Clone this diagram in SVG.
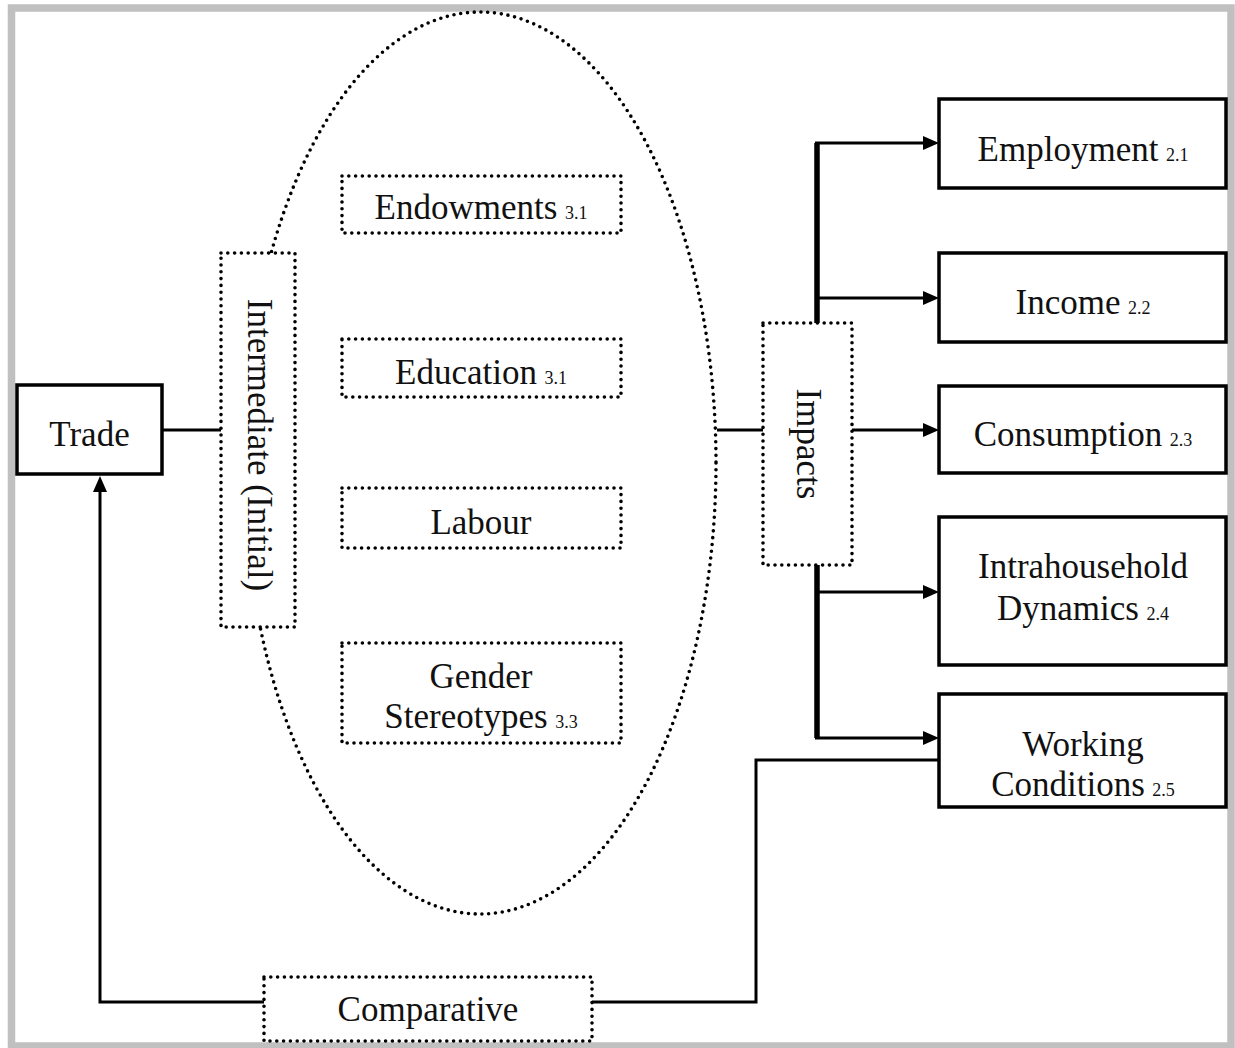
<svg xmlns="http://www.w3.org/2000/svg" width="1235" height="1048" viewBox="0 0 1235 1048">
<style>
.frame{fill:none;stroke:#c0c0c0;stroke-width:7.5}
.box{fill:#fff;stroke:#000;stroke-width:3.5}
.dot{fill:#fff;stroke:#000;stroke-width:3.6;stroke-dasharray:0 6.8;stroke-linecap:round}
.dotn{fill:none;stroke:#000;stroke-width:3.6;stroke-dasharray:0 6.8;stroke-linecap:round}
.ln{fill:none;stroke:#000;stroke-width:3}
.trunk{fill:none;stroke:#000;stroke-width:5.5}
text{font-family:"Liberation Serif","Times New Roman",serif;font-size:35px;fill:#111;text-anchor:middle}
.sm{font-size:18px}
</style>
<defs>
<marker id="ah" markerUnits="userSpaceOnUse" viewBox="0 0 16 14" markerWidth="16" markerHeight="14" refX="2" refY="7" orient="auto">
<path d="M0,0 L16,7 L0,14 z" fill="#000"/>
</marker>
</defs>
<rect class="frame" x="11.5" y="8" width="1219.5" height="1038"/>
<g id="ellipse">
<ellipse class="dotn" cx="480" cy="463" rx="236" ry="451"/>
</g>
<g id="connectors">
<path class="ln" d="M162 430 H221"/>
<path class="ln" d="M717 430 H787"/>
<path class="trunk" d="M817 323 V143"/>
<path class="ln" d="M815 143 H925" marker-end="url(#ah)"/>
<path class="ln" d="M815 298 H925" marker-end="url(#ah)"/>
<path class="ln" d="M852 430 H925" marker-end="url(#ah)"/>
<path class="trunk" d="M817 565 V738"/>
<path class="ln" d="M815 592 H925" marker-end="url(#ah)"/>
<path class="ln" d="M815 738 H925" marker-end="url(#ah)"/>
<path class="ln" d="M939 760 H756 V1002 H592"/>
<path class="ln" d="M264 1002 H100 V490" marker-end="url(#ah)"/>
</g>
<g id="trade">
<rect class="box" x="17" y="385" width="145" height="89"/>
<text x="89.5" y="446">Trade</text>
</g>
<g id="intermediate">
<rect class="dot" x="221" y="253" width="74" height="374"/>
<text transform="translate(248,445) rotate(90)">Intermediate (Initial)</text>
</g>
<g id="endowments">
<rect class="dot" x="342" y="176" width="279" height="57"/>
<text x="481" y="219">Endowments<tspan class="sm" dx="3"> 3.1</tspan></text>
</g>
<g id="education">
<rect class="dot" x="342" y="339" width="279" height="58"/>
<text x="481" y="384">Education<tspan class="sm" dx="3"> 3.1</tspan></text>
</g>
<g id="labour">
<rect class="dot" x="342" y="488" width="279" height="60"/>
<text x="481" y="534">Labour</text>
</g>
<g id="gender">
<rect class="dot" x="342" y="643" width="279" height="100"/>
<text x="481" y="688">Gender</text>
<text x="481" y="728">Stereotypes<tspan class="sm" dx="3"> 3.3</tspan></text>
</g>
<g id="impacts">
<rect class="dot" x="763" y="323" width="89" height="242"/>
<text transform="translate(797,444) rotate(90)">Impacts</text>
</g>
<g id="employment">
<rect class="box" x="939" y="99" width="287" height="89"/>
<text x="1083" y="161">Employment<tspan class="sm" dx="3"> 2.1</tspan></text>
</g>
<g id="income">
<rect class="box" x="939" y="253" width="287" height="89"/>
<text x="1083" y="314">Income<tspan class="sm" dx="3"> 2.2</tspan></text>
</g>
<g id="consumption">
<rect class="box" x="939" y="386" width="287" height="87"/>
<text x="1083" y="446">Consumption<tspan class="sm" dx="3"> 2.3</tspan></text>
</g>
<g id="intrahousehold">
<rect class="box" x="939" y="517" width="287" height="148"/>
<text x="1083" y="578">Intrahousehold</text>
<text x="1083" y="620">Dynamics<tspan class="sm" dx="3"> 2.4</tspan></text>
</g>
<g id="working">
<rect class="box" x="939" y="694" width="287" height="113"/>
<text x="1083" y="756">Working</text>
<text x="1083" y="796">Conditions<tspan class="sm" dx="3"> 2.5</tspan></text>
</g>
<g id="comparative">
<rect class="dot" x="264" y="977" width="328" height="64"/>
<text x="428" y="1021">Comparative</text>
</g>
</svg>
